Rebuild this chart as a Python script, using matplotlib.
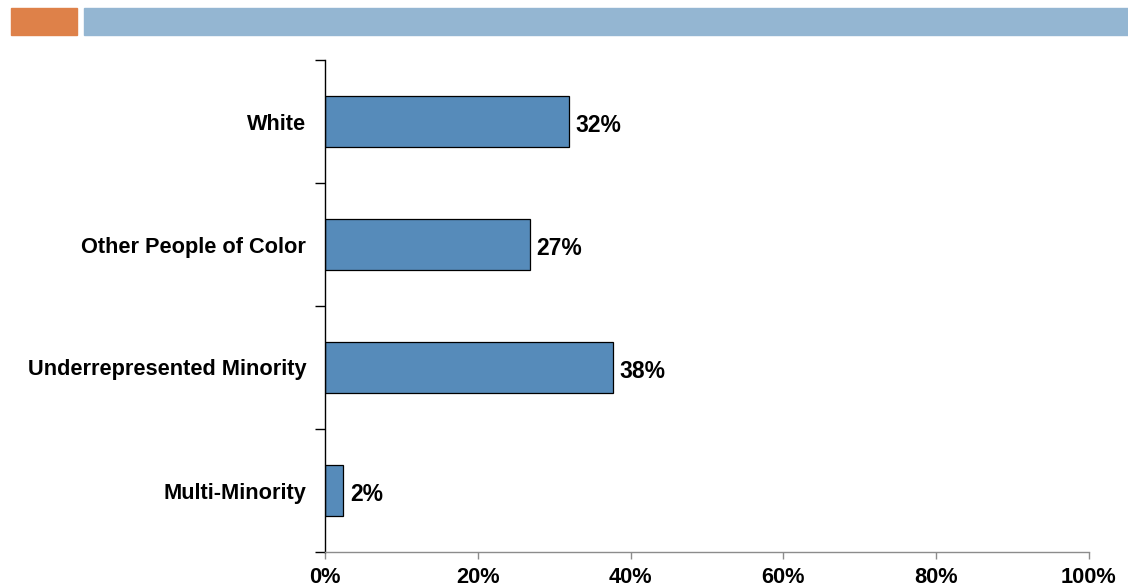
import matplotlib.pyplot as plt
from matplotlib.patches import Rectangle

categories = ['White', 'Other People of Color', 'Underrepresented Minority', 'Multi-Minority']
values = [31.9, 26.8, 37.7, 2.4]
value_labels = ['32%', '27%', '38%', '2%']
x_ticks = [0, 20, 40, 60, 80, 100]
x_tick_labels = ['0%', '20%', '40%', '60%', '80%', '100%']

plt.rcParams['font.family'] = ['Liberation Sans', 'DejaVu Sans']
plt.rcParams['font.weight'] = 'bold'

fig = plt.figure(figsize=(11.28, 5.88), dpi=100)

# header bars
fig.patches.append(Rectangle((11 / 1128, 1 - 35 / 588), 66 / 1128, 27 / 588,
                             transform=fig.transFigure, color='#DE8149', zorder=0))
fig.patches.append(Rectangle((84 / 1128, 1 - 35 / 588), 1044 / 1128, 27 / 588,
                             transform=fig.transFigure, color='#94B6D2', zorder=0))

ax = fig.add_axes([325 / 1128, 1 - 552 / 588, (1089 - 325) / 1128, (552 - 60) / 588])

y = list(range(len(categories)))
ax.barh(y, values, height=0.41, color='#568BBA', edgecolor='black', linewidth=0.9)
for yi, v, lab in zip(y, values, value_labels):
    ax.text(v + 0.9, yi + 0.03, lab, va='center', ha='left', fontsize=16.5, fontweight='bold')

ax.set_ylim(len(categories) - 0.5, -0.5)
ax.set_xlim(0, 100)
ax.set_yticks(y)
ax.set_yticklabels(categories, fontsize=15.7, fontweight='bold')
ax.tick_params(axis='y', length=0, pad=13.5)
ax.set_yticks([i - 0.5 for i in range(len(categories) + 1)], minor=True)
ax.tick_params(axis='y', which='minor', length=7, width=1, color='black', direction='out')

ax.set_xticks(x_ticks)
ax.set_xticklabels(x_tick_labels, fontsize=15.7, fontweight='bold')
ax.tick_params(axis='x', length=5, width=1, color='#8C8C8C', direction='out', pad=6)

for s in ['top', 'right']:
    ax.spines[s].set_visible(False)
ax.spines['left'].set_color('black')
ax.spines['left'].set_linewidth(1)
ax.spines['bottom'].set_color('#8C8C8C')
ax.spines['bottom'].set_linewidth(1)

fig.savefig('out.png', dpi=100)
